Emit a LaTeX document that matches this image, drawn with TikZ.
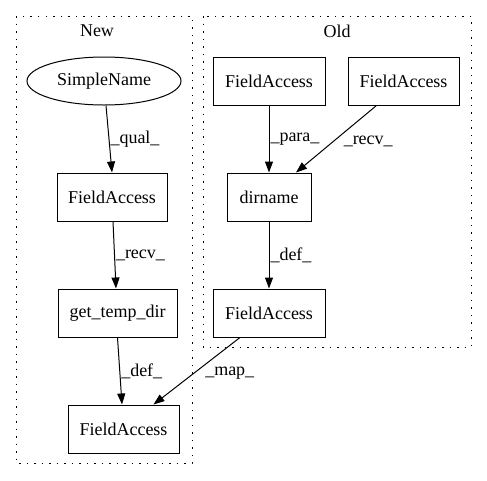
\documentclass[tikz,border=0pt]{standalone}
\usepackage{fontspec}
\setmainfont{Liberation Serif}
\usetikzlibrary{arrows.meta,shapes.geometric,calc}
\begin{document}
\begin{tikzpicture}[x=1pt,y=-1pt,
  every node/.style={font=\fontsize{18}{20}\selectfont},
  box/.style={draw,line width=1pt,rectangle,inner sep=0pt},
  oval/.style={draw,line width=1pt,ellipse,inner sep=0pt},
  cluster/.style={draw,line width=1pt,dash pattern=on 1.5pt off 6pt},
  edge/.style={draw,line width=1pt,-{Triangle[length=11pt,width=8pt]}},
  lbl/.style={inner sep=1pt,font=\fontsize{18}{20}\selectfont}]
\useasboundingbox (0,0) rectangle (487,480);
\draw[cluster] (16,16) rectangle (192,463);
\draw[cluster] (203,16) rectangle (471,347);
\node (newlbl) at (97,31) {New};
\node (oldlbl) at (337,31) {Old};
% New
\node[oval,minimum width=154pt,minimum height=48pt] (sn) at (104,81) {SimpleName};
\node[box,minimum width=110pt,minimum height=48pt] (fa1) at (112,197) {FieldAccess};
\node[box,minimum width=119pt,minimum height=48pt] (gtd) at (117.5,313) {get\_temp\_dir};
\node[box,minimum width=111pt,minimum height=48pt] (fa2) at (123.5,429) {FieldAccess};
% Old
\node[box,minimum width=112pt,minimum height=48pt] (ofa1) at (269,81) {FieldAccess};
\node[box,minimum width=111pt,minimum height=48pt] (ofa2) at (403.5,81) {FieldAccess};
\node[box,minimum width=84pt,minimum height=48pt] (dn) at (269,197) {dirname};
\node[box,minimum width=112pt,minimum height=48pt] (ofa3) at (269,313) {FieldAccess};
% edges
\draw[edge] ($(sn.south)+(2,0)$) -- (fa1.north) node[pos=0.5,right,lbl] {\_qual\_};
\draw[edge] ($(fa1.south)+(1,0)$) -- ($(gtd.north)+(-1.5,0)$) node[pos=0.5,right,lbl] {\_recv\_};
\draw[edge] (gtd.south) -- ($(fa2.north)+(-1.5,0)$) node[pos=0.5,right,lbl] {\_def\_};
\draw[edge] (ofa1.south) -- (dn.north) node[pos=0.5,right,lbl] {\_para\_};
\draw[edge] ($(ofa2.south)+(-27,0)$) -- ($(dn.north)+(27,0)$) node[pos=0.5,right,lbl,xshift=6pt,yshift=-2pt] {\_recv\_};
\draw[edge] (dn.south) -- (ofa3.north) node[pos=0.5,right,lbl] {\_def\_};
\draw[edge] ($(ofa3.south)+(-29,0)$) -- ($(fa2.north)+(30,0)$) node[pos=0.5,right,lbl,xshift=7pt,yshift=-2pt] {\_map\_};
\end{tikzpicture}
\end{document}
